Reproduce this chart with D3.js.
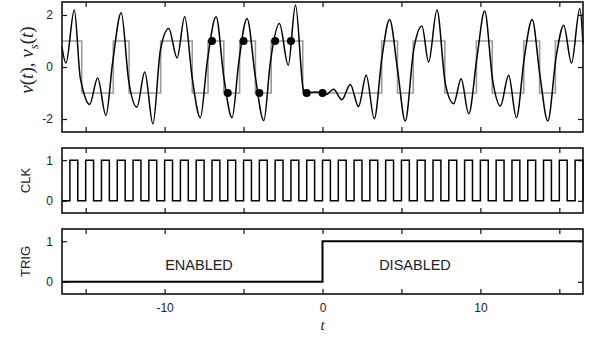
<!DOCTYPE html>
<html>
<head>
<meta charset="utf-8">
<script src="https://cdn.jsdelivr.net/npm/d3@7/dist/d3.min.js"></script>
<style>
  body { margin: 0; background: #fff; }
  text { font-family: "Liberation Sans", Arial, sans-serif; fill: #222; }
</style>
</head>
<body>
<script>
const W = 592, H = 340;

// continuous signal v(t): turning points and shoulders
const vT = [-16.5, -16.25, -15.72, -15.35, -15.24, -14.75, -14.24, -13.72, -13.29, -12.75, -12.28,
  -11.75, -11.26, -10.74, -10.27, -9.74, -9.21, -8.73, -8.26, -7.74, -7.3, -6.74, -6.25, -5.73,
  -5.3, -4.78, -4.25, -3.72, -3.3, -2.73, -2.17, -1.71, -1.2, -1.0, -0.5, 0.0, 0.22,
  0.70, 1.23, 1.76, 2.28, 2.77, 3.28, 3.77, 4.25, 4.76, 5.24, 5.77, 6.30, 6.72, 7.25, 7.78,
  8.31, 8.78, 9.26, 9.79, 10.27, 10.78, 11.27, 11.79, 12.28, 12.79, 13.28, 13.76, 14.27, 14.80,
  15.28, 15.77, 16.30, 16.5];
const vV = [0.77, 0.15, 2.19, -0.39, -0.71, -1.44, -0.42, -1.86, 0.19, 2.09, -0.51,
  -1.54, -0.19, -2.19, 0.64, 1.48, 0.35, 1.93, -0.39, -1.95, 0.2, 1.93, -0.39, -1.95,
  0.2, 1.87, -0.39, -2.06, 0.2, 1.67, 0.07, 2.38, -0.9, -1.0, -0.96, -1.0, -1.06,
  -0.86, -1.26, -0.67, -1.52, -0.32, -1.99, 0.39, 1.83, -0.13, -2.08, 0.64, 1.58, 0.19, 2.19, -0.64,
  -1.41, -0.45, -1.80, 0.39, 2.15, -0.51, -1.5, -0.32, -1.95, 0.39, 1.83, -0.26, -2.08, 0.39,
  1.61, 0.15, 2.25, 0.9];

// sampled signal v_s(t): step times and the level held after each
const vsT = [-16.5, -15.25, -13.25, -12.25, -10.25, -8.25, -7.25, -6.25, -5.25, -4.25, -3.25,
  -1.25, 3.75, 4.75, 5.75, 7.75, 9.75, 10.75, 12.75, 13.75, 14.75, 16.5];
const vsV = [1, -1, 1, -1, 1, -1, 1, -1, 1, -1, 1, -1, 1, -1, 1, -1, 1, -1, 1, -1, 1, 1];

// sample instants marked with dots
const dotT = [-7, -6, -5, -4, -3, -2, -1, 0];
const dotV = [1, -1, 1, -1, 1, 1, -1, -1];

// clock rising edges, high for half a period
const clkRise = [-16, -15, -14, -13, -12, -11, -10, -9, -8, -7, -6, -5, -4, -3, -2, -1,
  0, 1, 2, 3, 4, 5, 6, 7, 8, 9, 10, 11, 12, 13, 14, 15, 16];
const clkHigh = 0.5;

// trigger
const trigT = [-16.5, 0, 16.5];
const trigV = [0, 1, 1];

const xTicks = [-15, -10, -5, 0, 5, 10, 15];
const xLabels = [-10, 0, 10];

const svg = d3.select('body').append('svg')
    .attr('width', W)
    .attr('height', H);

const x = d3.scaleLinear().domain([-16.5, 16.5]).range([62, 583]);

const panels = [
  {name: 'v', top: 2, bottom: 132, domain: [-2.5, 2.5], ticks: [-2, 0, 2]},
  {name: 'clk', top: 148, bottom: 213, domain: [-0.3, 1.3], ticks: [0, 1]},
  {name: 'trig', top: 229, bottom: 294, domain: [-0.3, 1.3], ticks: [0, 1]}
];
panels.forEach(p => { p.y = d3.scaleLinear().domain(p.domain).range([p.bottom, p.top]); });

function frame(p, showX) {
  const g = svg.append('g');
  const TICK = 5;
  g.append('g')
      .attr('transform', `translate(0,${p.bottom})`)
      .call(d3.axisBottom(x).tickValues(xTicks).tickSize(-TICK).tickPadding(9)
          .tickFormat(d => showX && xLabels.includes(d) ? String(d) : ''));
  g.append('g')
      .attr('transform', `translate(0,${p.top})`)
      .call(d3.axisTop(x).tickValues(xTicks).tickSize(-TICK).tickFormat(''));
  g.append('g')
      .attr('transform', `translate(${x.range()[0]},0)`)
      .call(d3.axisLeft(p.y).tickValues(p.ticks).tickSize(-TICK).tickPadding(9)
          .tickFormat(d => String(d)));
  g.append('g')
      .attr('transform', `translate(${x.range()[1]},0)`)
      .call(d3.axisRight(p.y).tickValues(p.ticks).tickSize(-TICK).tickFormat(''));
  g.selectAll('.domain').remove();
  g.selectAll('.tick line').attr('stroke', '#111').attr('stroke-width', 1.2);
  g.selectAll('.tick text').style('font-size', '12px').attr('fill', '#222')
      .style('font-family', '"Liberation Sans", Arial, sans-serif');
  g.append('rect')
      .attr('x', x.range()[0]).attr('y', p.top)
      .attr('width', x.range()[1] - x.range()[0]).attr('height', p.bottom - p.top)
      .attr('fill', 'none').attr('stroke', '#111').attr('stroke-width', 1.6);
  return g;
}

// --- top panel: v(t) and v_s(t)
const pv = panels[0];
svg.append('path')
    .datum(vsT.map((t, i) => [t, vsV[i]]))
    .attr('fill', 'none').attr('stroke', '#9a9a9a').attr('stroke-width', 1.6)
    .attr('d', d3.line().x(d => x(d[0])).y(d => pv.y(d[1])).curve(d3.curveStepAfter));
svg.append('path')
    .datum(vT.map((t, i) => [t, vV[i]]))
    .attr('fill', 'none').attr('stroke', '#000').attr('stroke-width', 1.5)
    .attr('d', d3.line().x(d => x(d[0])).y(d => pv.y(d[1])).curve(d3.curveMonotoneX));
svg.selectAll('.dot')
    .data(dotT.map((t, i) => [t, dotV[i]]))
    .enter().append('circle')
    .attr('class', 'dot')
    .attr('cx', d => x(d[0])).attr('cy', d => pv.y(d[1]))
    .attr('r', 4).attr('fill', '#000');
frame(pv, false);

// --- clock
const pc = panels[1];
const clkPts = [[x.domain()[0], 0]];
clkRise.forEach(r => {
  const f = Math.min(r + clkHigh, x.domain()[1]);
  clkPts.push([r, 0], [r, 1], [f, 1], [f, 0]);
});
svg.append('path')
    .datum(clkPts)
    .attr('fill', 'none').attr('stroke', '#000').attr('stroke-width', 1.5)
    .attr('d', d3.line().x(d => x(d[0])).y(d => pc.y(d[1])));
frame(pc, false);

// --- trigger
const pt = panels[2];
svg.append('path')
    .datum(trigT.map((t, i) => [t, trigV[i]]))
    .attr('fill', 'none').attr('stroke', '#000').attr('stroke-width', 2)
    .attr('d', d3.line().x(d => x(d[0])).y(d => pt.y(d[1])).curve(d3.curveStepAfter));
frame(pt, true);

svg.append('text').attr('x', 199).attr('y', 270).attr('text-anchor', 'middle')
    .style('font-size', '14.5px').text('ENABLED');
svg.append('text').attr('x', 415).attr('y', 270).attr('text-anchor', 'middle')
    .style('font-size', '14.5px').text('DISABLED');

// --- axis titles
const serif = '"Liberation Serif", "Times New Roman", serif';
const vt = svg.append('text')
    .attr('transform', 'translate(33,60) rotate(-90)')
    .attr('text-anchor', 'middle')
    .style('font-family', serif).style('font-size', '19px');
vt.append('tspan').style('font-style', 'italic').text('v');
vt.append('tspan').text('(');
vt.append('tspan').style('font-style', 'italic').text('t');
vt.append('tspan').text('), ');
vt.append('tspan').style('font-style', 'italic').text('v');
vt.append('tspan').style('font-style', 'italic').style('font-size', '13px').attr('dy', 5).text('s');
vt.append('tspan').attr('dy', -5).text('(');
vt.append('tspan').style('font-style', 'italic').text('t');
vt.append('tspan').text(')');

svg.append('text')
    .attr('transform', `translate(30,${(pc.top + pc.bottom) / 2}) rotate(-90)`)
    .attr('text-anchor', 'middle').style('font-size', '13px').text('CLK');
svg.append('text')
    .attr('transform', `translate(30,${(pt.top + pt.bottom) / 2}) rotate(-90)`)
    .attr('text-anchor', 'middle').style('font-size', '13px').text('TRIG');
svg.append('text')
    .attr('x', x(0)).attr('y', 330).attr('text-anchor', 'middle')
    .style('font-family', serif).style('font-style', 'italic').style('font-size', '15px').text('t');
</script>
</body>
</html>
